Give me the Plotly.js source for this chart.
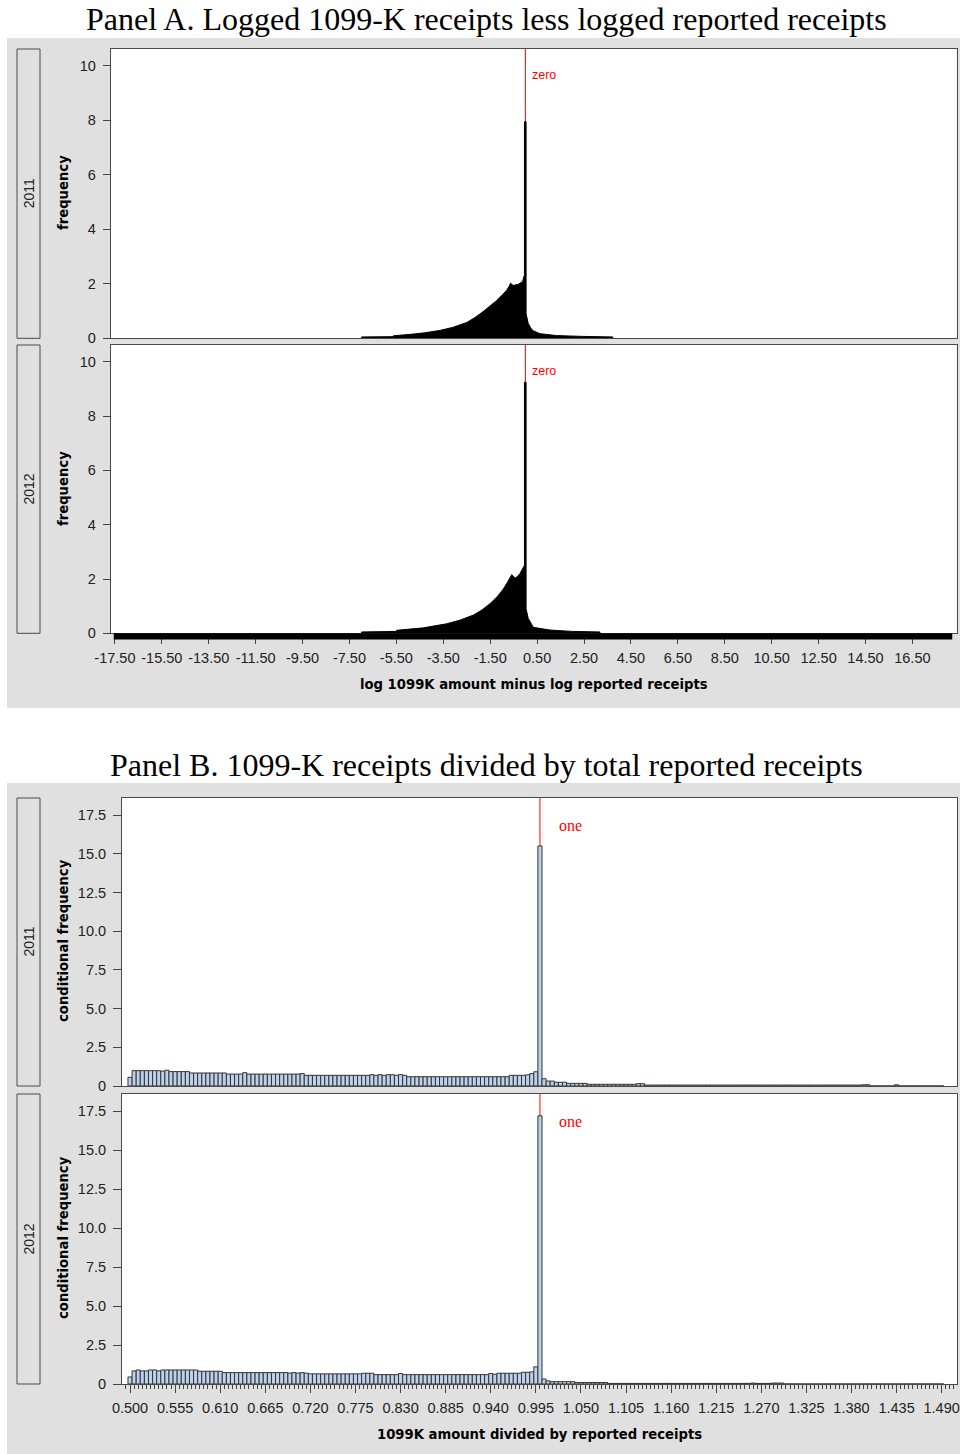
<!DOCTYPE html>
<html>
<head>
<meta charset="utf-8">
<script src="https://cdn.plot.ly/plotly-3.0.1.min.js"></script>
<style>html,body{margin:0;padding:0;background:#fff;}#chart{width:960px;height:1454px;}</style>
</head>
<body>
<div id="chart"></div>
<script>
// ---------------- DATA ----------------
// Panel A: histogram envelope (log 1099K minus log reported receipts), frequency %
const a2011X = [-6.98, -6.98, -5.63, -5.63, -4.85, -4.3, -3.64, -3.1, -2.5, -2.15, -1.8, -1.5, -1.22, -1.0, -0.8, -0.7, -0.63, -0.52, -0.42, -0.3, -0.2, -0.12, -0.06, -0.04, -0.04, 0.03, 0.03, 0.12, 0.25, 0.35, 0.62, 1.33, 2.4, 3.47, 3.73, 3.73];
const a2011Y = [0, 0.05, 0.06, 0.09, 0.15, 0.2, 0.29, 0.4, 0.58, 0.76, 0.98, 1.18, 1.39, 1.58, 1.76, 1.9, 2.02, 1.94, 1.95, 1.98, 2.04, 2.08, 2.28, 2.3, 7.95, 7.95, 0.9, 0.55, 0.35, 0.27, 0.17, 0.1, 0.07, 0.06, 0.05, 0];
const a2012X = [-6.98, -6.98, -5.49, -5.49, -4.35, -3.9, -3.36, -2.8, -2.22, -1.85, -1.51, -1.2, -0.94, -0.75, -0.58, -0.44, -0.33, -0.23, -0.12, -0.06, -0.04, -0.04, 0.03, 0.03, 0.12, 0.34, 1.05, 2.0, 3.18, 3.18];
const a2012Y = [0, 0.05, 0.07, 0.11, 0.2, 0.26, 0.35, 0.48, 0.67, 0.86, 1.09, 1.35, 1.63, 1.9, 2.16, 2.03, 2.1, 2.2, 2.35, 2.47, 2.5, 9.25, 9.25, 0.9, 0.55, 0.22, 0.12, 0.07, 0.05, 0];
// 2012 fringe of extreme observations below the axis
const fringe2012 = [-17.55, 18.2];
const tickValsA = [-17.5, -15.5, -13.5, -11.5, -9.5, -7.5, -5.5, -3.5, -1.5, 0.5, 2.5, 4.5, 6.5, 8.5, 10.5, 12.5, 14.5, 16.5];
const tickLabelsA = ['-17.50', '-15.50', '-13.50', '-11.50', '-9.50', '-7.50', '-5.50', '-3.50', '-1.50', '0.50', '2.50', '4.50', '6.50', '8.50', '10.50', '12.50', '14.50', '16.50'];
const yTickValsA = [0, 2, 4, 6, 8, 10];
const yTickLabelsA = ['0', '2', '4', '6', '8', '10'];

// Panel B: ratio histogram, bins of width 0.005 starting at 0.500, conditional frequency %
const binStart = 0.5;
const binWidth = 0.005;
const b2011 = [
  0.56, 0.99, 0.99, 0.99, 0.99, 0.99, 0.99, 0.99, 0.96, 1.02,
  0.93, 0.93, 0.93, 0.93, 0.93, 0.84, 0.84, 0.84, 0.84, 0.84,
  0.84, 0.84, 0.84, 0.84, 0.77, 0.77, 0.77, 0.77, 0.86, 0.77,
  0.77, 0.77, 0.77, 0.77, 0.77, 0.77, 0.77, 0.77, 0.77, 0.77,
  0.77, 0.77, 0.80, 0.69, 0.69, 0.69, 0.69, 0.69, 0.69, 0.69,
  0.69, 0.69, 0.69, 0.69, 0.69, 0.69, 0.69, 0.69, 0.69, 0.73,
  0.69, 0.73, 0.69, 0.73, 0.73, 0.69, 0.73, 0.69, 0.60, 0.60,
  0.60, 0.60, 0.60, 0.60, 0.60, 0.60, 0.60, 0.60, 0.60, 0.60,
  0.60, 0.60, 0.60, 0.60, 0.60, 0.60, 0.60, 0.60, 0.60, 0.60,
  0.60, 0.60, 0.60, 0.69, 0.69, 0.69, 0.69, 0.72, 0.80, 0.92,
  15.5, 0.47, 0.32, 0.32, 0.24, 0.24, 0.24, 0.17, 0.17, 0.17,
  0.17, 0.17, 0.11, 0.11, 0.11, 0.11, 0.11, 0.11, 0.11, 0.11,
  0.11, 0.11, 0.11, 0.11, 0.15, 0.15, 0.06, 0.06, 0.06, 0.06,
  0.06, 0.06, 0.06, 0.06, 0.06, 0.06, 0.06, 0.06, 0.06, 0.06,
  0.06, 0.06, 0.06, 0.06, 0.06, 0.06, 0.06, 0.06, 0.06, 0.06,
  0.06, 0.06, 0.06, 0.06, 0.06, 0.06, 0.06, 0.06, 0.06, 0.06,
  0.06, 0.06, 0.06, 0.06, 0.06, 0.06, 0.06, 0.06, 0.06, 0.06,
  0.06, 0.06, 0.06, 0.06, 0.06, 0.06, 0.06, 0.06, 0.06, 0.08,
  0.08, 0, 0, 0, 0, 0, 0, 0.08, 0, 0,
  0, 0, 0, 0, 0, 0, 0, 0, 0
];
const b2012 = [
  0.45, 0.84, 0.90, 0.84, 0.84, 0.90, 0.90, 0.84, 0.90, 0.90,
  0.90, 0.90, 0.90, 0.90, 0.90, 0.90, 0.90, 0.82, 0.82, 0.82,
  0.82, 0.82, 0.82, 0.73, 0.73, 0.73, 0.73, 0.73, 0.73, 0.73,
  0.73, 0.73, 0.73, 0.73, 0.73, 0.73, 0.73, 0.73, 0.73, 0.70,
  0.73, 0.70, 0.73, 0.70, 0.65, 0.65, 0.65, 0.65, 0.65, 0.65,
  0.65, 0.65, 0.65, 0.65, 0.65, 0.65, 0.65, 0.69, 0.69, 0.69,
  0.60, 0.60, 0.60, 0.60, 0.60, 0.60, 0.67, 0.60, 0.60, 0.60,
  0.60, 0.60, 0.60, 0.60, 0.60, 0.60, 0.60, 0.60, 0.60, 0.60,
  0.60, 0.60, 0.60, 0.60, 0.60, 0.60, 0.60, 0.60, 0.67, 0.63,
  0.69, 0.69, 0.69, 0.69, 0.69, 0.69, 0.75, 0.75, 0.78, 1.10,
  17.2, 0.32, 0.20, 0.15, 0.15, 0.15, 0.15, 0.15, 0.15, 0.10,
  0.10, 0.10, 0.10, 0.10, 0.10, 0.10, 0.10, 0.04, 0.04, 0.04,
  0.04, 0.04, 0.04, 0.04, 0.04, 0.04, 0.04, 0.04, 0.04, 0.04,
  0.04, 0.04, 0.04, 0.04, 0.04, 0.04, 0.04, 0.04, 0.04, 0.04,
  0.04, 0.04, 0.04, 0.04, 0.04, 0.04, 0.04, 0.04, 0.04, 0.04,
  0.04, 0.04, 0.06, 0.04, 0.04, 0.04, 0.04, 0.06, 0.06, 0.06,
  0, 0, 0, 0, 0, 0, 0, 0, 0, 0,
  0, 0, 0, 0, 0, 0, 0, 0, 0, 0,
  0, 0, 0, 0, 0, 0, 0, 0, 0, 0,
  0, 0, 0, 0, 0, 0, 0, 0, 0
];
const tickValsB = [0.5, 0.555, 0.61, 0.665, 0.72, 0.775, 0.83, 0.885, 0.94, 0.995, 1.05, 1.105, 1.16, 1.215, 1.27, 1.325, 1.38, 1.435, 1.49];
const tickLabelsB = ['0.500', '0.555', '0.610', '0.665', '0.720', '0.775', '0.830', '0.885', '0.940', '0.995', '1.050', '1.105', '1.160', '1.215', '1.270', '1.325', '1.380', '1.435', '1.490'];
const yTickValsB = [0, 2.5, 5, 7.5, 10, 12.5, 15, 17.5];
const yTickLabelsB = ['0', '2.5', '5.0', '7.5', '10.0', '12.5', '15.0', '17.5'];
const years = ['2011', '2012'];
const refA = 0, refALabel = 'zero';
const refB = 1.0, refBLabel = 'one';

// ---------------- LAYOUT HELPERS ----------------
const W = 960, H = 1454;
const px = x => x / W;
const py = y => 1 - y / H;
const GREY = '#e0e0e0';
const FRAME = '#4a4a4a';
const TICKC = '#444444';
const SANS = 'Liberation Sans, Arial, sans-serif';
const BOLD = 'DejaVu Sans, sans-serif';
const SERIF = 'Liberation Serif, Times New Roman, serif';

const frameAxis = {showline: true, mirror: true, linecolor: FRAME, linewidth: 1, showgrid: false, zeroline: false, fixedrange: true};
const tickFont = {family: SANS, size: 14.5, color: '#222'};

const traces = [
  {type: 'scatter', mode: 'lines', x: a2011X, y: a2011Y, fill: 'tozeroy', fillcolor: '#000', line: {color: '#000', width: 1}, xaxis: 'x', yaxis: 'y', hoverinfo: 'skip'},
  {type: 'scatter', mode: 'lines', x: a2012X, y: a2012Y, fill: 'tozeroy', fillcolor: '#000', line: {color: '#000', width: 1}, xaxis: 'x2', yaxis: 'y2', hoverinfo: 'skip'},
  {type: 'bar', x0: binStart, dx: binWidth, y: b2011, width: binWidth, marker: {color: '#bcd2ec', line: {color: '#333', width: 1}}, xaxis: 'x3', yaxis: 'y3', hoverinfo: 'skip'},
  {type: 'bar', x0: binStart, dx: binWidth, y: b2012, width: binWidth, marker: {color: '#bcd2ec', line: {color: '#333', width: 1}}, xaxis: 'x4', yaxis: 'y4', hoverinfo: 'skip'}
];

const rangeA = [-17.68, 18.39];
const rangeB = [0.4902, 1.5087];

function ann(text, x, y, font, extra) {
  return Object.assign({text: text, xref: 'paper', yref: 'paper', x: px(x), y: py(y), xanchor: 'center', yanchor: 'middle', showarrow: false, font: font}, extra || {});
}
const stripFont = {family: SANS, size: 14, color: '#222'};
const titleFont = {family: BOLD, size: 13.2, color: '#000'};
const panelFont = {family: SERIF, size: 32, color: '#000'};

const layout = {
  width: W, height: H,
  margin: {l: 0, r: 0, t: 0, b: 0},
  paper_bgcolor: GREY,
  plot_bgcolor: '#ffffff',
  showlegend: false,
  bargap: 0,
  xaxis: Object.assign({}, frameAxis, {domain: [px(110.7), px(956.7)], range: rangeA, anchor: 'y', ticks: '', showticklabels: false}),
  yaxis: Object.assign({}, frameAxis, {domain: [py(338.3), py(49)], range: [0, 10.62], anchor: 'x', ticks: 'outside', ticklen: 7, tickcolor: TICKC, tickvals: yTickValsA, ticktext: yTickLabelsA, tickfont: tickFont, ticklabelstandoff: 4}),
  xaxis2: Object.assign({}, frameAxis, {domain: [px(110.7), px(956.7)], range: rangeA, anchor: 'y2', ticks: 'outside', ticklen: 10, tickcolor: TICKC, tickvals: tickValsA, ticktext: tickLabelsA, tickfont: tickFont, ticklabelstandoff: 1}),
  yaxis2: Object.assign({}, frameAxis, {domain: [py(633.3), py(345)], range: [0, 10.62], anchor: 'x2', ticks: 'outside', ticklen: 7, tickcolor: TICKC, tickvals: yTickValsA, ticktext: yTickLabelsA, tickfont: tickFont, ticklabelstandoff: 4}),
  xaxis3: Object.assign({}, frameAxis, {domain: [px(122), px(957)], range: rangeB, anchor: 'y3', ticks: '', showticklabels: false}),
  yaxis3: Object.assign({}, frameAxis, {domain: [py(1086), py(798)], range: [0, 18.6], anchor: 'x3', ticks: 'outside', ticklen: 8, tickcolor: TICKC, tickvals: yTickValsB, ticktext: yTickLabelsB, tickfont: tickFont, ticklabelstandoff: 4}),
  xaxis4: Object.assign({}, frameAxis, {domain: [px(122), px(957)], range: rangeB, anchor: 'y4', ticks: 'outside', ticklen: 8, tickcolor: TICKC, tickvals: tickValsB, ticktext: tickLabelsB, tickfont: tickFont, ticklabelstandoff: 3,
    minor: {tick0: binStart, dtick: binWidth, ticks: 'outside', ticklen: 4, tickcolor: TICKC, showgrid: false}}),
  yaxis4: Object.assign({}, frameAxis, {domain: [py(1384), py(1094)], range: [0, 18.6], anchor: 'x4', ticks: 'outside', ticklen: 8, tickcolor: TICKC, tickvals: yTickValsB, ticktext: yTickLabelsB, tickfont: tickFont, ticklabelstandoff: 4}),
  shapes: [
    // white page areas outside the two grey panels
    {type: 'rect', xref: 'paper', yref: 'paper', x0: 0, x1: 1, y0: py(38), y1: 1, fillcolor: '#ffffff', line: {width: 0}, layer: 'below'},
    {type: 'rect', xref: 'paper', yref: 'paper', x0: 0, x1: 1, y0: py(783), y1: py(708), fillcolor: '#ffffff', line: {width: 0}, layer: 'below'},
    {type: 'rect', xref: 'paper', yref: 'paper', x0: 0, x1: px(7), y0: 0, y1: 1, fillcolor: '#ffffff', line: {width: 0}, layer: 'below'},
    // strip boxes
    {type: 'rect', xref: 'paper', yref: 'paper', x0: px(17), x1: px(40), y0: py(338.3), y1: py(49), fillcolor: GREY, line: {color: FRAME, width: 1}, layer: 'below'},
    {type: 'rect', xref: 'paper', yref: 'paper', x0: px(17), x1: px(40), y0: py(633.3), y1: py(345), fillcolor: GREY, line: {color: FRAME, width: 1}, layer: 'below'},
    {type: 'rect', xref: 'paper', yref: 'paper', x0: px(17), x1: px(40), y0: py(1086), y1: py(798), fillcolor: GREY, line: {color: FRAME, width: 1}, layer: 'below'},
    {type: 'rect', xref: 'paper', yref: 'paper', x0: px(17), x1: px(40), y0: py(1384), y1: py(1094), fillcolor: GREY, line: {color: FRAME, width: 1}, layer: 'below'},
    // reference lines
    {type: 'line', xref: 'x', yref: 'y domain', x0: refA, x1: refA, y0: 0, y1: 1, line: {color: '#ff0000', width: 1}, layer: 'below'},
    {type: 'line', xref: 'x2', yref: 'y2 domain', x0: refA, x1: refA, y0: 0, y1: 1, line: {color: '#ff0000', width: 1}, layer: 'below'},
    {type: 'line', xref: 'x3', yref: 'y3 domain', x0: refB, x1: refB, y0: 0, y1: 1, line: {color: '#ff0000', width: 1}, layer: 'below'},
    {type: 'line', xref: 'x4', yref: 'y4 domain', x0: refB, x1: refB, y0: 0, y1: 1, line: {color: '#ff0000', width: 1}, layer: 'below'},
    // fringe band of 2012 extreme observations
    {type: 'rect', xref: 'x2', yref: 'paper', x0: fringe2012[0], x1: fringe2012[1], y0: py(639.5), y1: py(633.3), fillcolor: '#000', line: {width: 0}, layer: 'above'}
  ],
  annotations: [
    ann('Panel A. Logged 1099-K receipts less logged reported receipts', 486.5, 19, panelFont),
    ann('Panel B. 1099-K receipts divided by total reported receipts', 486.5, 765, panelFont),
    // strip labels
    ann(years[0], 28.5, 193.7, stripFont, {textangle: -90}),
    ann(years[1], 28.5, 489, stripFont, {textangle: -90}),
    ann(years[0], 28.5, 942, stripFont, {textangle: -90}),
    ann(years[1], 28.5, 1239, stripFont, {textangle: -90}),
    // y titles
    ann('<b>frequency</b>', 63, 193, titleFont, {textangle: -90}),
    ann('<b>frequency</b>', 63, 489, titleFont, {textangle: -90}),
    ann('<b>conditional frequency</b>', 63, 941, titleFont, {textangle: -90}),
    ann('<b>conditional frequency</b>', 63, 1238, titleFont, {textangle: -90}),
    // x titles
    ann('<b>log 1099K amount minus log reported receipts</b>', 533.5, 685, titleFont),
    ann('<b>1099K amount divided by reported receipts</b>', 539, 1434, titleFont),
    // reference labels
    {text: refALabel, xref: 'x', yref: 'paper', x: refA, y: py(75), xanchor: 'left', yanchor: 'middle', xshift: 5, showarrow: false, font: {family: SANS, size: 12.5, color: '#ff0000'}},
    {text: refALabel, xref: 'x2', yref: 'paper', x: refA, y: py(371), xanchor: 'left', yanchor: 'middle', xshift: 5, showarrow: false, font: {family: SANS, size: 12.5, color: '#ff0000'}},
    {text: refBLabel, xref: 'x3', yref: 'paper', x: refB, y: py(825), xanchor: 'left', yanchor: 'middle', xshift: 17, showarrow: false, font: {family: SERIF, size: 16, color: '#ff0000'}},
    {text: refBLabel, xref: 'x4', yref: 'paper', x: refB, y: py(1121), xanchor: 'left', yanchor: 'middle', xshift: 17, showarrow: false, font: {family: SERIF, size: 16, color: '#ff0000'}}
  ]
};

Plotly.newPlot('chart', traces, layout, {staticPlot: true, displayModeBar: false});
</script>
</body>
</html>
